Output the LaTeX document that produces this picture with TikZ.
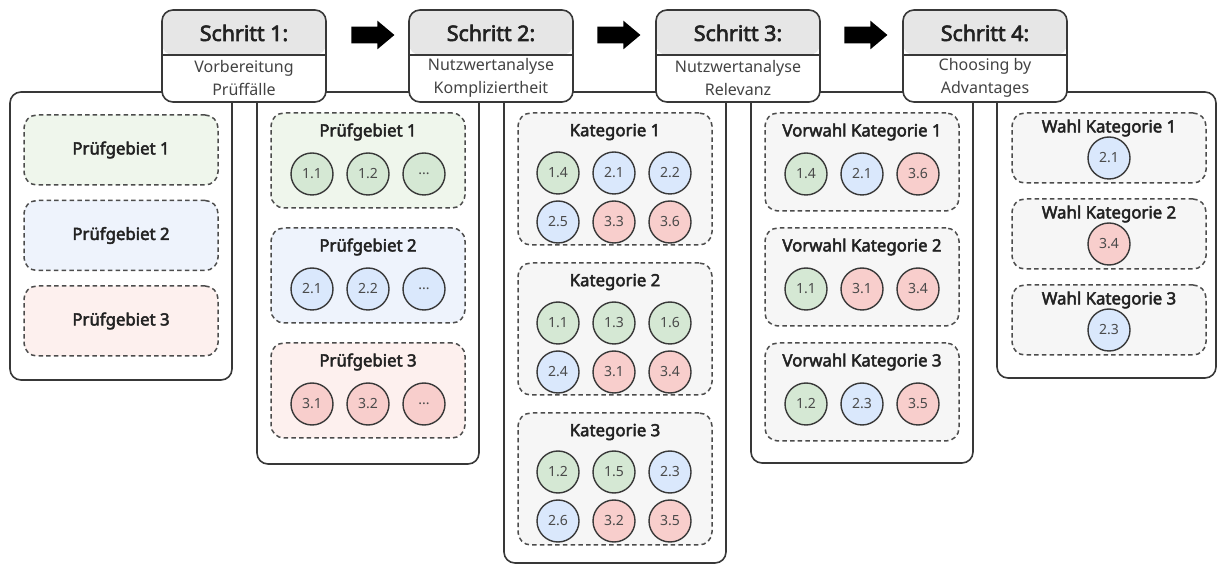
\documentclass[tikz,border=0pt]{standalone}
\usepackage{fontspec}
\setmainfont{Noto Sans}[AutoFakeBold=2.8]
\usetikzlibrary{shapes.arrows}
\newdimen\pxu \pxu=0.75pt
\definecolor{linec}{HTML}{383838}
\definecolor{textc}{HTML}{222222}
\definecolor{numc}{HTML}{4A4A4A}
\definecolor{hdrgray}{HTML}{E6E6E6}
\definecolor{cgreen}{HTML}{D5E8D4}
\definecolor{cblue}{HTML}{DAE8FC}
\definecolor{cred}{HTML}{F8CECC}
\definecolor{lgreen}{HTML}{EFF6EC}
\definecolor{lblue}{HTML}{EEF3FC}
\definecolor{lred}{HTML}{FDF0EE}
\definecolor{lgray}{HTML}{F6F6F6}
\begin{document}
\begin{tikzpicture}[x=0.75pt,y=-0.75pt,
  panel/.style={draw=linec, line width=1.6\pxu, fill=white, rounded corners=11\pxu,
    inner sep=0pt, outer sep=0pt, minimum width=222\pxu},
  hdrbox/.style={draw=linec, line width=1.6\pxu, fill=white, rounded corners=11\pxu,
    inner sep=0pt, outer sep=0pt, minimum width=164\pxu, minimum height=92\pxu,
    path picture={\fill[hdrgray] (path picture bounding box.north west) rectangle
      ([yshift=-45\pxu]path picture bounding box.north east);}},
  divider/.style={draw=linec, line width=1.6\pxu},
  steptitle/.style={font=\fontsize{16}{18}\selectfont\bfseries, text=textc, inner sep=0pt},
  stepsub/.style={font=\fontsize{12}{17}\selectfont, text=textc!85, align=center, inner sep=0pt},
  blockarrow/.style={single arrow, fill=black, draw=none, inner sep=0pt, inner ysep=8\pxu,
    minimum height=43\pxu, single arrow head extend=6\pxu, single arrow tip angle=80,
    single arrow head indent=0pt},
  dbox/.style={draw=linec!90, line width=1.5\pxu, dash pattern=on 4.5\pxu off 3.2\pxu,
    rounded corners=13\pxu, inner sep=0pt, minimum width=194\pxu},
  boxtitle/.style={font=\fontsize{12.6}{14}\selectfont\bfseries, text=textc, inner sep=0pt},
  circ/.style={circle, draw=linec, line width=1.4\pxu, minimum size=42\pxu, inner sep=0pt,
    font=\fontsize{10.5}{11}\selectfont, text=numc},
  gc/.style={circ, fill=cgreen},
  bc/.style={circ, fill=cblue},
  rc/.style={circ, fill=cred}
]
\useasboundingbox (0,0) rectangle (1218,566);

% ---- column panels
\node[panel, minimum height=288\pxu] (p1) at (121,236) {};
\node[panel, minimum height=372\pxu] (p2) at (368,278) {};
\node[panel, minimum height=471\pxu] (p3) at (615,327.5) {};
\node[panel, minimum height=371\pxu] (p4) at (862,277.5) {};
\node[panel, minimum width=219\pxu, minimum height=286\pxu] (p5) at (1106.5,235) {};

% ---- step headers
\foreach \n/\x/\sub in {1/244/{Vorbereitung\\Prüffälle},
                        2/491/{Nutzwertanalyse\\Kompliziertheit},
                        3/738/{Nutzwertanalyse\\Relevanz},
                        4/985/{Choosing by\\Advantages}}{
  \node[hdrbox] (h\n) at (\x,56) {};
  \draw[divider] ([yshift=-45\pxu]h\n.north west) -- ([yshift=-45\pxu]h\n.north east);
  \node[steptitle] (ht\n) at (\x,33) {Schritt \n:};
  \node[stepsub] (hs\n) at (\x,78) {\sub};
}

% ---- arrows between the steps
\node[blockarrow] (ar1) at (368,35) {};
\node[blockarrow] (ar2) at (614,35) {};
\node[blockarrow] (ar3) at (861,35) {};

% ---- column 1: test areas
\node[dbox, fill=lgreen, minimum height=70\pxu] (a1) at (121,150) {};
\node[boxtitle] (a1t) at (a1) {Prüfgebiet 1};
\node[dbox, fill=lblue, minimum height=70\pxu] (a2) at (121,235.5) {};
\node[boxtitle] (a2t) at (a2) {Prüfgebiet 2};
\node[dbox, fill=lred, minimum height=70\pxu] (a3) at (121,321) {};
\node[boxtitle] (a3t) at (a3) {Prüfgebiet 3};

% ---- column 2: test areas with cases
\node[dbox, fill=lgreen, minimum height=95\pxu] (b1) at (368,160.5) {};
\node[boxtitle] (b1t) at (368,132) {Prüfgebiet 1};
\node[gc] (b1a) at (312,174) {1.1};
\node[gc] (b1b) at (368,174) {1.2};
\node[gc] (b1c) at (424,174) {...};
\node[dbox, fill=lblue, minimum height=95\pxu] (b2) at (368,275.5) {};
\node[boxtitle] (b2t) at (368,247) {Prüfgebiet 2};
\node[bc] (b2a) at (312,289) {2.1};
\node[bc] (b2b) at (368,289) {2.2};
\node[bc] (b2c) at (424,289) {...};
\node[dbox, fill=lred, minimum height=95\pxu] (b3) at (368,390.5) {};
\node[boxtitle] (b3t) at (368,362) {Prüfgebiet 3};
\node[rc] (b3a) at (312,404) {3.1};
\node[rc] (b3b) at (368,404) {3.2};
\node[rc] (b3c) at (424,404) {...};

% ---- column 3: categories
\node[dbox, fill=lgray, minimum height=132\pxu] (k1) at (615,179) {};
\node[boxtitle] (k1t) at (615,132) {Kategorie 1};
\node[gc] (k1a) at (558,173) {1.4};
\node[bc] (k1b) at (614,173) {2.1};
\node[bc] (k1c) at (670,173) {2.2};
\node[bc] (k1d) at (558,222) {2.5};
\node[rc] (k1e) at (614,222) {3.3};
\node[rc] (k1f) at (670,222) {3.6};
\node[dbox, fill=lgray, minimum height=132\pxu] (k2) at (615,329) {};
\node[boxtitle] (k2t) at (615,282) {Kategorie 2};
\node[gc] (k2a) at (558,323) {1.1};
\node[gc] (k2b) at (614,323) {1.3};
\node[gc] (k2c) at (670,323) {1.6};
\node[bc] (k2d) at (558,372) {2.4};
\node[rc] (k2e) at (614,372) {3.1};
\node[rc] (k2f) at (670,372) {3.4};
\node[dbox, fill=lgray, minimum height=132\pxu] (k3) at (615,479) {};
\node[boxtitle] (k3t) at (615,432) {Kategorie 3};
\node[gc] (k3a) at (558,472) {1.2};
\node[gc] (k3b) at (614,472) {1.5};
\node[bc] (k3c) at (670,472) {2.3};
\node[bc] (k3d) at (558,521) {2.6};
\node[rc] (k3e) at (614,521) {3.2};
\node[rc] (k3f) at (670,521) {3.5};

% ---- column 4: preselection
\node[dbox, fill=lgray, minimum height=98\pxu] (v1) at (862,162) {};
\node[boxtitle] (v1t) at (862,132) {Vorwahl Kategorie 1};
\node[gc] (v1a) at (806,174) {1.4};
\node[bc] (v1b) at (862,174) {2.1};
\node[rc] (v1c) at (918,174) {3.6};
\node[dbox, fill=lgray, minimum height=98\pxu] (v2) at (862,277) {};
\node[boxtitle] (v2t) at (862,247) {Vorwahl Kategorie 2};
\node[gc] (v2a) at (806,289) {1.1};
\node[rc] (v2b) at (862,289) {3.1};
\node[rc] (v2c) at (918,289) {3.4};
\node[dbox, fill=lgray, minimum height=98\pxu] (v3) at (862,392) {};
\node[boxtitle] (v3t) at (862,362) {Vorwahl Kategorie 3};
\node[gc] (v3a) at (806,404) {1.2};
\node[bc] (v3b) at (862,404) {2.3};
\node[rc] (v3c) at (918,404) {3.5};

% ---- column 5: final choice
\node[dbox, fill=lgray, minimum height=70\pxu] (w1) at (1109,148) {};
\node[boxtitle] (w1t) at (1109,128) {Wahl Kategorie 1};
\node[bc] (w1a) at (1109,158) {2.1};
\node[dbox, fill=lgray, minimum height=70\pxu] (w2) at (1109,234) {};
\node[boxtitle] (w2t) at (1109,214) {Wahl Kategorie 2};
\node[rc] (w2a) at (1109,244) {3.4};
\node[dbox, fill=lgray, minimum height=70\pxu] (w3) at (1109,320) {};
\node[boxtitle] (w3t) at (1109,300) {Wahl Kategorie 3};
\node[bc] (w3a) at (1109,330) {2.3};
\end{tikzpicture}
\end{document}
